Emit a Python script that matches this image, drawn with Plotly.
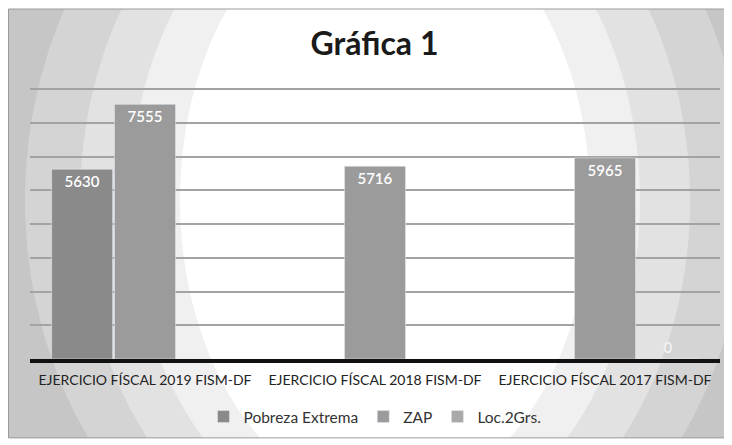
import plotly.graph_objects as go

categories = ["EJERCICIO FÍSCAL 2019 FISM-DF", "EJERCICIO FÍSCAL 2018 FISM-DF", "EJERCICIO FÍSCAL 2017 FISM-DF"]
pobreza = [5630, None, None]
zap = [7555, 5716, 5965]
loc2 = [None, None, 0]

# the page body adds an 8px offset, so the figure is 8px smaller than the window
OFF = 8
W, H = 732 - OFF, 445 - OFF
ML, MR, MT, MB = 22, 12, 77.6, 86
PW, PH = W - ML - MR, H - MT - MB
FONT = "Lato, sans-serif"
LBL = "Lato Semibold, Lato, sans-serif"

def px(x):
    return (x - ML) / PW

def py(y):
    return (H - MB - y) / PH

def txt(vals):
    return ["" if v is None else str(v) for v in vals]

fig = go.Figure()
fig.add_bar(name="Pobreza Extrema", x=categories, y=pobreza, text=txt(pobreza),
            marker_color="#8a8a8a", textposition="inside", insidetextanchor="end",
            insidetextfont=dict(color="white", size=15, family=LBL))
fig.add_bar(name="ZAP", x=categories, y=zap, text=txt(zap),
            marker_color="#9b9b9b", textposition="inside", insidetextanchor="end",
            insidetextfont=dict(color="white", size=15, family=LBL))
fig.add_bar(name="Loc.2Grs.", x=categories, y=loc2, text=txt(loc2),
            marker_color="#a9a9a9", textposition="outside", cliponaxis=False,
            outsidetextfont=dict(color="#f2f2f2", size=15, family=LBL))

# radial-gradient background approximated by concentric ellipses
shapes = []
cx, cy = 377, 192
rings = [(600, 700, "#c6c6c6"), (360, 420, "#d4d4d4"), (305, 380, "#e2e2e2"),
         (255, 340, "#f0f0f0"), (205, 300, "#ffffff")]
for rx, ry, c in rings:
    shapes.append(dict(type="circle", xref="paper", yref="paper", layer="below",
                       x0=px(cx - rx), x1=px(cx + rx), y0=py(cy + ry), y1=py(cy - ry),
                       fillcolor=c, line=dict(width=0)))
# white frame outside the chart border
bx0, by0, bx1, by1 = 0.5, 0.5, 717, 430
path = (f"M {px(-50)} {py(-50)} L {px(W+50)} {py(-50)} L {px(W+50)} {py(H+50)} L {px(-50)} {py(H+50)} Z "
        f"M {px(bx0)} {py(by0)} L {px(bx1)} {py(by0)} L {px(bx1)} {py(by1)} L {px(bx0)} {py(by1)} Z")
shapes.append(dict(type="path", path=path, xref="paper", yref="paper", layer="below",
                   fillcolor="white", fillrule="evenodd", line=dict(width=0)))
shapes.append(dict(type="rect", xref="paper", yref="paper", layer="below",
                   x0=px(bx0), x1=px(bx1), y0=py(by1), y1=py(by0),
                   line=dict(color="#9a9a9a", width=1)))

fig.update_layout(
    width=W, height=H,
    margin=dict(l=ML, r=MR, t=MT, b=MB, autoexpand=False),
    paper_bgcolor="white", plot_bgcolor="rgba(0,0,0,0)",
    font=dict(family=FONT, color="#222222"),
    title=dict(text="<b>Gráfica 1</b>", x=366.5 / W, xanchor="center", xref="container",
               y=1 - 36 / H, yanchor="middle", yref="container",
               font=dict(size=32, color="#1a1a1a", family=FONT)),
    barmode="group", bargap=0.18, bargroupgap=0.03,
    showlegend=True,
    legend=dict(orientation="h", xref="container", x=367 / W, xanchor="center",
                yref="container", y=1 - 409 / H, yanchor="middle",
                font=dict(size=15.5, color="#333333", family=FONT), bgcolor="rgba(0,0,0,0)",
                itemwidth=30),
    shapes=shapes,
    xaxis=dict(showline=True, linecolor="#111111", linewidth=4, ticks="", ticklabelstandoff=5,
               tickangle=0, automargin=False, tickfont=dict(size=14, color="#222222", family=FONT)),
    yaxis=dict(range=[0, 8100], tick0=0, dtick=1000, showticklabels=False, showgrid=True,
               automargin=False, gridcolor="#a3a3a3", gridwidth=1.5, zeroline=False),
)

fig.write_html("out.html")
